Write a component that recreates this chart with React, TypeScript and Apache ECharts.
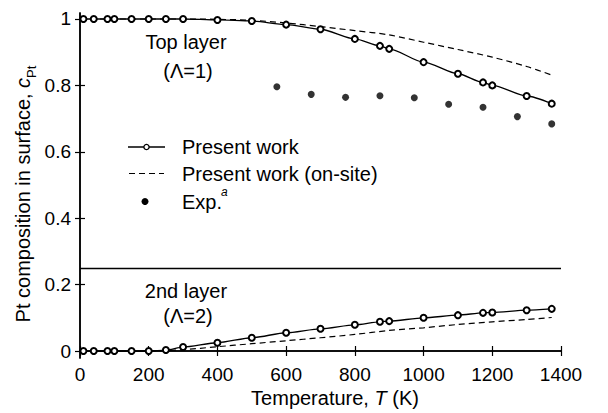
import React, { useEffect, useRef } from "react";
import * as echarts from "echarts";

// Temperatures (K) of the simulated points
const T_SIM = [10, 40, 80, 100, 150, 200, 250, 300, 400, 500, 600, 700, 800, 873, 900, 1000, 1100, 1173, 1200, 1300, 1373];
// Pt composition, top layer (Λ=1), present work
const TOP_PRESENT = [1, 1, 1, 1, 1, 1, 1, 1, 0.997, 0.994, 0.983, 0.969, 0.94, 0.919, 0.91, 0.87, 0.835, 0.809, 0.8, 0.768, 0.745];
// Pt composition, 2nd layer (Λ=2), present work
const SECOND_PRESENT = [0, 0, 0, 0, 0, 0, 0.003, 0.012, 0.025, 0.04, 0.055, 0.067, 0.079, 0.088, 0.09, 0.1, 0.108, 0.115, 0.116, 0.123, 0.127];

// On-site model curves
const T_ONSITE = [0, 100, 200, 300, 400, 500, 600, 700, 800, 900, 1000, 1100, 1200, 1300, 1373];
const TOP_ONSITE = [1, 1, 1, 1, 0.999, 0.996, 0.988, 0.977, 0.965, 0.952, 0.93, 0.908, 0.885, 0.857, 0.831];
const SECOND_ONSITE = [0, 0, 0, 0.004, 0.013, 0.022, 0.031, 0.04, 0.05, 0.062, 0.07, 0.08, 0.088, 0.095, 0.101];

// Experimental top-layer composition
const T_EXP = [573, 673, 773, 873, 973, 1073, 1173, 1273, 1373];
const EXP_TOP = [0.796, 0.773, 0.764, 0.769, 0.763, 0.743, 0.734, 0.706, 0.684];

// Axis ticks
const Y_TICKS = [0, 0.2, 0.4, 0.6, 0.8, 1];
const LAYER_BREAK = 0.25;

const FONT = '"Liberation Sans", Arial, Helvetica, sans-serif';
const INK = "#000";

const zip = (xs: number[], ys: number[]) => xs.map((x, i) => [x, ys[i]]);

export default function App() {
  const ref = useRef<HTMLDivElement>(null);

  useEffect(() => {
    if (!ref.current) return;
    const chart = echarts.init(ref.current, undefined, { renderer: "svg" });

    const frameLine = { show: true, lineStyle: { color: INK, width: 1.5 } };
    const tick = { show: true, inside: true, length: 5, lineStyle: { color: INK, width: 1.2 } };

    const presentLine = {
      type: "line" as const,
      name: "Present work",
      symbol: "emptyCircle",
      symbolSize: 6,
      showSymbol: true,
      showAllSymbol: true,
      smooth: 0.25,
      smoothMonotone: "x" as const,
      lineStyle: { color: INK, width: 1.3 },
      itemStyle: { color: INK, borderColor: INK, borderWidth: 1.3 },
      z: 3,
    };
    const onsiteLine = {
      type: "line" as const,
      name: "Present work (on-site)",
      showSymbol: false,
      symbol: "none",
      smooth: 0.3,
      lineStyle: { color: INK, width: 1.2, type: [6, 4] as number[] },
      z: 2,
    };

    const text = (t: string, x: number, y: number, extra: any = {}) => ({
      type: "text",
      x,
      y,
      style: {
        text: t,
        font: `20px ${FONT}`,
        fill: INK,
        align: "center",
        verticalAlign: "middle",
        ...extra,
      },
    });

    chart.setOption({
      animation: false,
      backgroundColor: "#fff",
      grid: { left: 80, top: 13, width: 481, height: 345 },
      xAxis: [
        {
          type: "value",
          min: 0,
          max: 1400,
          interval: 200,
          axisLine: frameLine,
          axisTick: tick,
          splitLine: { show: false },
          axisLabel: {
            color: INK,
            fontSize: 19,
            fontFamily: FONT,
            margin: 7,
            formatter: (v: number) => String(v),
          },
        },
        {
          type: "value",
          position: "top",
          min: 0,
          max: 1400,
          interval: 200,
          axisLine: frameLine,
          axisTick: tick,
          splitLine: { show: false },
          axisLabel: { show: false },
        },
      ],
      yAxis: [
        {
          type: "value",
          min: -0.021,
          max: 1.018,
          axisLine: frameLine,
          axisTick: { ...tick, customValues: Y_TICKS },
          splitLine: { show: false },
          axisLabel: {
            customValues: Y_TICKS,
            color: INK,
            fontSize: 19,
            fontFamily: FONT,
            margin: 9,
            formatter: (v: number) => String(Math.round(v * 10) / 10),
          },
        },
        {
          type: "value",
          position: "right",
          min: -0.021,
          max: 1.018,
          axisLine: frameLine,
          axisTick: { ...tick, customValues: Y_TICKS },
          splitLine: { show: false },
          axisLabel: { show: false },
        },
      ],
      series: [
        {
          ...onsiteLine,
          data: zip(T_ONSITE, TOP_ONSITE),
          markLine: {
            silent: true,
            symbol: "none",
            label: { show: false },
            lineStyle: { color: INK, width: 1.3, type: "solid" },
            data: [{ yAxis: LAYER_BREAK }],
          },
        },
        { ...onsiteLine, data: zip(T_ONSITE, SECOND_ONSITE) },
        { ...presentLine, data: zip(T_SIM, TOP_PRESENT) },
        { ...presentLine, data: zip(T_SIM, SECOND_PRESENT) },
        {
          type: "scatter",
          name: "Exp.",
          symbol: "circle",
          symbolSize: 7,
          itemStyle: { color: INK },
          data: zip(T_EXP, EXP_TOP),
          z: 4,
        },
      ],
      graphic: [
        // layer annotations
        text("Top layer", 186, 42),
        text("(Λ=1)", 188, 71),
        text("2nd layer", 186, 291),
        text("(Λ=2)", 188, 316),
        // legend
        { type: "line", shape: { x1: 128, y1: 147, x2: 165, y2: 147 }, style: { stroke: INK, lineWidth: 1.3 } },
        { type: "circle", shape: { cx: 146.5, cy: 147, r: 2.6 }, style: { fill: "#fff", stroke: INK, lineWidth: 1.3 } },
        text("Present work", 182, 147, { align: "left" }),
        { type: "line", shape: { x1: 129, y1: 173.5, x2: 164, y2: 173.5 }, style: { stroke: INK, lineWidth: 1.2, lineDash: [6, 4] } },
        text("Present work (on-site)", 182, 173.5, { align: "left" }),
        { type: "circle", shape: { cx: 145, cy: 201.5, r: 3.5 }, style: { fill: INK } },
        text("Exp.", 182, 201.5, { align: "left" }),
        text("a", 221, 192, { align: "left", font: `italic 12px ${FONT}` }),
        // axis names
        {
          type: "text",
          x: 335,
          y: 398,
          style: {
            text: "{n|Temperature, }{i|T}{n| (K)}",
            align: "center",
            verticalAlign: "middle",
            fill: INK,
            rich: {
              n: { fontSize: 20, fontFamily: FONT, fill: INK, lineHeight: 20 },
              i: { fontSize: 20, fontFamily: FONT, fontStyle: "italic", fill: INK, lineHeight: 20 },
            },
          },
        },
        {
          type: "text",
          x: 23,
          y: 194,
          rotation: Math.PI / 2,
          style: {
            text: "{n|Pt composition in surface, }{i|c}{s|Pt}",
            align: "center",
            verticalAlign: "middle",
            fill: INK,
            rich: {
              n: { fontSize: 20, fontFamily: FONT, fill: INK, lineHeight: 20, verticalAlign: "middle" },
              i: { fontSize: 20, fontFamily: FONT, fontStyle: "italic", fill: INK, lineHeight: 20, verticalAlign: "middle" },
              s: { fontSize: 13, fontFamily: FONT, fill: INK, lineHeight: 30, verticalAlign: "bottom" },
            },
          },
        },
      ],
    });

    return () => chart.dispose();
  }, []);

  return <div ref={ref} style={{ width: 608, height: 413, position: "absolute", left: 0, top: 0 }} />;
}
